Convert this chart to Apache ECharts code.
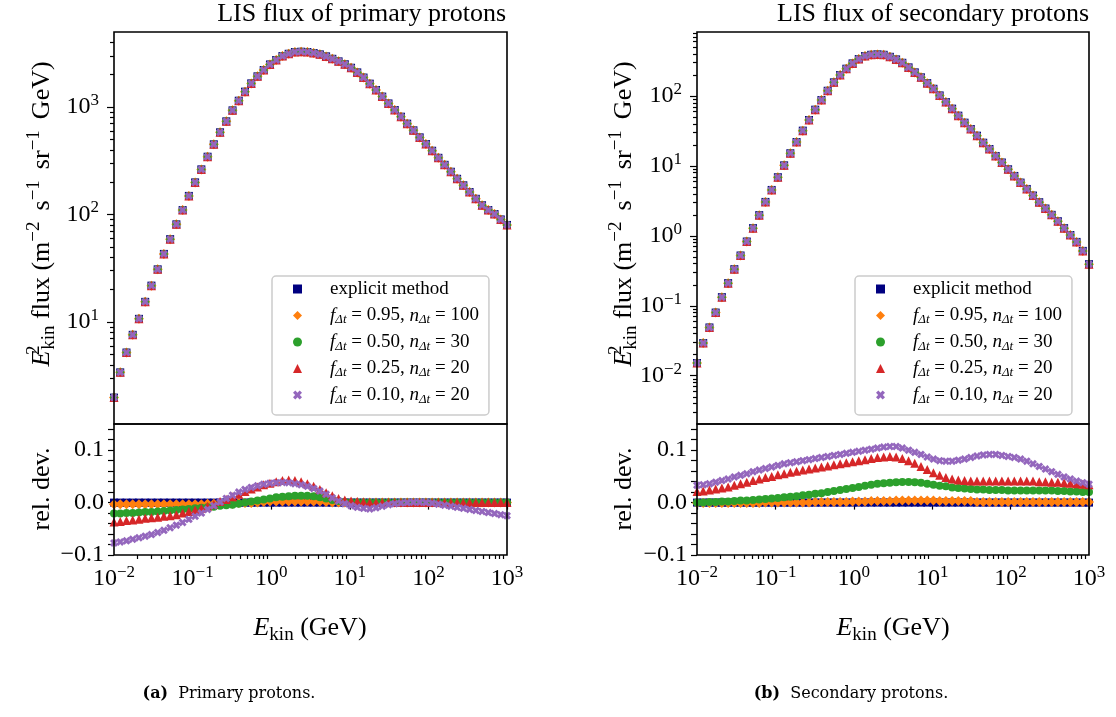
<!DOCTYPE html>
<html><head><meta charset="utf-8">
<script src="https://cdn.jsdelivr.net/npm/echarts@6/dist/echarts.min.js"></script>
<style>html,body{margin:0;padding:0;background:#fff}#c{width:1116px;height:717px}</style>
</head><body><div id="c"></div>
<script>
// ---------------- data ----------------
const energy = [0.01, 0.012, 0.01441, 0.0173, 0.02077, 0.02494, 0.02994, 0.03594, 0.04314, 0.0518, 0.06218, 0.07465, 0.08962, 0.1076, 0.1292, 0.1551, 0.1861, 0.2235, 0.2683, 0.3221, 0.3866, 0.4642, 0.5572, 0.6689, 0.8031, 0.9641, 1.157, 1.39, 1.668, 2.003, 2.404, 2.886, 3.465, 4.16, 4.994, 5.995, 7.197, 8.64, 10.37, 12.45, 14.95, 17.95, 21.54, 25.86, 31.05, 37.28, 44.75, 53.72, 64.49, 77.43, 92.95, 111.6, 134.0, 160.8, 193.1, 231.8, 278.3, 334.0, 401.0, 481.4, 578.0, 693.9, 833.0, 1000];

const fluxPrimary = [1.98, 3.4, 5.2, 7.6, 10.7, 15.4, 21.8, 30.9, 43, 59, 81, 110, 149, 199, 263, 345, 450, 582, 736, 931, 1145, 1390, 1660, 1930, 2210, 2490, 2740, 2980, 3130, 3250, 3270, 3250, 3180, 3090, 2960, 2810, 2660, 2500, 2320, 2100, 1880, 1650, 1440, 1250, 1080, 938, 813, 700, 607, 522, 453, 392, 337, 290, 250, 215, 187, 162, 140, 122, 110, 101, 90, 80];

const fluxSecondary = [0.0152, 0.0293, 0.049, 0.080, 0.133, 0.211, 0.334, 0.524, 0.830, 1.29, 1.98, 3.06, 4.54, 6.9, 10.2, 15.2, 22, 32, 45.4, 63.8, 87.7, 119, 157, 200, 246, 293, 338, 373, 389, 394, 389, 364, 334, 299, 257, 218, 185, 153, 127, 102, 82, 66, 52.4, 41.6, 33.8, 27.1, 21.5, 17.5, 13.9, 11.2, 8.96, 7.2, 5.78, 4.69, 3.77, 3.03, 2.46, 2.0, 1.62, 1.29, 1.03, 0.82, 0.61, 0.394];

const devExplicit = [0,0,0,0,0,0,0,0,0,0, 0,0,0,0,0,0,0,0,0,0, 0,0,0,0,0,0,0,0,0,0, 0,0,0,0,0,0,0,0,0,0, 0,0,0,0,0,0,0,0,0,0, 0,0,0,0,0,0,0,0,0,0, 0,0,0,0];

const devPrimF095 = [-0.003,-0.003,-0.003,-0.003,-0.003,-0.003,-0.003,-0.003,-0.003,-0.003, -0.003,-0.003,-0.003,-0.003,-0.003,-0.002,-0.002,-0.002,-0.002,-0.002, -0.001,-0.001,-0.001,0.000,0.001,0.002,0.002,0.002,0.002,0.002, 0.002,0.002,0.002,0.002,0.001,0,0,0,0,0, 0,0,0,0,0,0,0,0,0,0, 0,0,0,0,0,0,0,0,0,0, 0,0,0,0];
const devPrimF050 = [-0.021,-0.021,-0.020,-0.020,-0.019,-0.018,-0.018,-0.017,-0.016,-0.015, -0.014,-0.013,-0.012,-0.011,-0.010,-0.009,-0.008,-0.006,-0.005,-0.004, -0.002,0.000,0.002,0.004,0.006,0.008,0.010,0.011,0.012,0.013, 0.013,0.013,0.012,0.010,0.008,0.005,0.003,0.001,0,0, 0,0,0,0,0,0,0,0,0,0, 0,0,0,0,0,0,0,0,0,0, 0,0,0,0];
const devPrimF025 = [-0.037,-0.036,-0.034,-0.033,-0.032,-0.030,-0.029,-0.028,-0.026,-0.025, -0.023,-0.020,-0.017,-0.014,-0.011,-0.007,-0.003,0.002,0.006,0.011, 0.016,0.021,0.026,0.030,0.034,0.037,0.040,0.042,0.043,0.042, 0.040,0.036,0.031,0.025,0.019,0.013,0.008,0.005,0.003,0.002, 0.001,0,0,0,0,0,0,0,0,0, 0,0,0,0,0,0,0,0,0,0, 0,0,0,0];
const devPrimF010 = [-0.077,-0.075,-0.073,-0.070,-0.067,-0.064,-0.061,-0.057,-0.053,-0.048, -0.043,-0.038,-0.032,-0.026,-0.020,-0.013,-0.006,0.001,0.008,0.014, 0.020,0.025,0.029,0.032,0.035,0.037,0.038,0.0385,0.038,0.036, 0.034,0.031,0.027,0.022,0.016,0.009,0.003,-0.002,-0.006,-0.009, -0.011,-0.012,-0.010,-0.007,-0.004,-0.002,-0.001,0.000,0.0005,0.0005, 0.000,-0.001,-0.003,-0.005,-0.007,-0.009,-0.011,-0.013,-0.015,-0.017, -0.019,-0.021,-0.023,-0.025];

const devSecF095 = [-0.001,-0.001,-0.001,-0.001,-0.001,-0.001,-0.001,-0.001,-0.001,-0.001, -0.001,0,0,0,0,0,0,0,0,0.001, 0.001,0.001,0.001,0.001,0.001,0.002,0.002,0.002,0.003,0.003, 0.003,0.003,0.004,0.004,0.004,0.004,0.004,0.004,0.004,0.003, 0.003,0.003,0.003,0.003,0.003,0.001,0.001,0.001,0.001,0.001, 0.001,0.001,0.001,0.001,0.001,0.001,0.001,0.001,0.001,0.001, 0.001,0.001,0.001,0.001];
const devSecF050 = [0.000,0.000,0.001,0.001,0.002,0.002,0.003,0.004,0.004,0.005, 0.006,0.007,0.008,0.009,0.010,0.011,0.012,0.014,0.015,0.017, 0.018,0.020,0.022,0.024,0.026,0.028,0.030,0.032,0.034,0.036, 0.037,0.038,0.039,0.0395,0.0395,0.039,0.038,0.036,0.034,0.032, 0.031,0.029,0.028,0.027,0.026,0.025,0.025,0.024,0.024,0.024, 0.023,0.023,0.023,0.023,0.023,0.023,0.023,0.023,0.022,0.022, 0.021,0.021,0.020,0.020];
const devSecF025 = [0.021,0.022,0.024,0.026,0.028,0.030,0.033,0.036,0.039,0.042, 0.045,0.048,0.050,0.053,0.055,0.058,0.060,0.062,0.064,0.066, 0.068,0.070,0.072,0.074,0.076,0.078,0.080,0.082,0.084,0.086, 0.087,0.088,0.087,0.084,0.080,0.075,0.069,0.063,0.057,0.052, 0.048,0.045,0.043,0.042,0.041,0.041,0.041,0.041,0.041,0.041, 0.041,0.041,0.041,0.041,0.041,0.040,0.040,0.039,0.039,0.038, 0.037,0.036,0.035,0.034];
const devSecF010 = [0.033,0.034,0.036,0.039,0.042,0.045,0.049,0.052,0.055,0.059, 0.062,0.065,0.068,0.071,0.074,0.076,0.078,0.080,0.082,0.084, 0.086,0.088,0.090,0.092,0.094,0.096,0.098,0.100,0.102,0.104, 0.106,0.107,0.107,0.104,0.100,0.096,0.092,0.087,0.083,0.080, 0.079,0.079,0.081,0.083,0.086,0.089,0.091,0.092,0.092,0.090, 0.088,0.086,0.083,0.079,0.074,0.069,0.064,0.059,0.054,0.049, 0.045,0.041,0.038,0.035];

const seriesNames = ['explicit method', 'fΔt = 0.95, nΔt = 100', 'fΔt = 0.50, nΔt = 30', 'fΔt = 0.25, nΔt = 20', 'fΔt = 0.10, nΔt = 20'];

const xTickValues = [0.01, 0.1, 1, 10, 100, 1000];
const xTickLabels = ['10{sup|−2}', '10{sup|−1}', '10{sup|0}', '10{sup|1}', '10{sup|2}', '10{sup|3}'];
const yPrimTickValues = [10, 100, 1000];
const yPrimTickLabels = ['10{sup|1}', '10{sup|2}', '10{sup|3}'];
const ySecTickValues = [0.01, 0.1, 1, 10, 100];
const ySecTickLabels = ['10{sup|−2}', '10{sup|−1}', '10{sup|0}', '10{sup|1}', '10{sup|2}'];
const devTickValues = [-0.1, -0.08, -0.06, -0.04, -0.02, 0, 0.02, 0.04, 0.06, 0.08, 0.1, 0.12, 0.14];
const devLabelValues = [-0.1, 0, 0.1];
const devLabelTexts = ['−0.1', '0.0', '0.1'];

// ---------------- styling ----------------
const FONT = 'Liberation Serif';
const colors = ['#000080', '#ff7f0e', '#2ca02c', '#d62728', '#9467bd'];
const XPATH = 'path://M0,2.6L2.6,0L5,2.4L7.4,0L10,2.6L7.6,5L10,7.4L7.4,10L5,7.6L2.6,10L0,7.4L2.4,5Z';
const symbols = ['rect', 'diamond', 'circle', 'triangle', XPATH];
const symbolSizes = [8, 10, 8, 9, 8];

function minorsOf(decades, lo, hi) {
  const out = [];
  decades.forEach(d => { for (let k = 2; k <= 9; k++) { const v = +(k * d).toPrecision(6); if (v > lo && v < hi) out.push(v); } });
  return out;
}
function lookup(values, labels, isLog) {
  return function (v) {
    for (let i = 0; i < values.length; i++) {
      const a = isLog ? Math.log10(values[i]) : values[i];
      const b = isLog ? Math.log10(v) : v;
      if (Math.abs(a - b) < 1e-6) return labels[i];
    }
    return '';
  };
}
const tickLine = { color: '#000', width: 1.2 };
const labelStyle = {
  color: '#000', fontFamily: FONT, fontSize: 24, lineHeight: 30,
  rich: { sup: { fontFamily: FONT, fontSize: 17, lineHeight: 17, verticalAlign: 'top', color: '#000' } }
};
const noSplit = { show: false };

const X_MIN = 0.01, X_MAX = 1000;
const yPrim = [1.125, 4990];
const ySec = [0.00204, 824];
const yDev = [-0.1, 0.15];

const xMinor = minorsOf([0.01, 0.1, 1, 10, 100], X_MIN, X_MAX);
const yPrimMinor = minorsOf([1, 10, 100, 1000], yPrim[0], yPrim[1]);
const ySecMinor = minorsOf([0.001, 0.01, 0.1, 1, 10, 100], ySec[0], ySec[1]);

function gridDef(left, top, width, height) {
  return { left, top, width, height, show: true, borderColor: '#000', borderWidth: 1.6, backgroundColor: 'transparent', z: 10 };
}
const grids = [gridDef(114, 32, 393, 392), gridDef(114, 424, 393, 131), gridDef(697, 32, 392, 392), gridDef(697, 424, 392, 131)];

function xTopAxis(g) {
  return { gridIndex: g, type: 'log', position: 'bottom', min: X_MIN, max: X_MAX, axisLine: { show: false }, axisTick: { show: false }, axisLabel: { show: false }, splitLine: noSplit };
}
function xBottomAxis(g) {
  return { gridIndex: g, type: 'log', position: 'bottom', offset: 0, min: X_MIN, max: X_MAX, axisLine: { show: false },
    axisTick: { show: true, length: 7, lineStyle: tickLine, customValues: xTickValues },
    axisLabel: Object.assign({ show: true, margin: 9, customValues: xTickValues, formatter: lookup(xTickValues, xTickLabels, true) }, labelStyle),
    splitLine: noSplit };
}
function xMinorAxis(g) {
  return { gridIndex: g, type: 'log', position: 'bottom', offset: 0, min: X_MIN, max: X_MAX, axisLine: { show: false },
    axisTick: { show: true, length: 4, lineStyle: tickLine, customValues: xMinor }, axisLabel: { show: false }, splitLine: noSplit };
}
function yLogAxis(g, ext, vals, labs) {
  return { gridIndex: g, type: 'log', position: 'left', offset: 0, min: ext[0], max: ext[1], axisLine: { show: false },
    axisTick: { show: true, length: 7, lineStyle: tickLine, customValues: vals },
    axisLabel: Object.assign({ show: true, margin: 15, customValues: vals, formatter: lookup(vals, labs, true) }, labelStyle),
    splitLine: noSplit };
}
function yLogMinor(g, ext, vals) {
  return { gridIndex: g, type: 'log', position: 'left', offset: 0, min: ext[0], max: ext[1], axisLine: { show: false },
    axisTick: { show: true, length: 4, lineStyle: tickLine, customValues: vals }, axisLabel: { show: false }, splitLine: noSplit };
}
function yDevAxis(g) {
  return { gridIndex: g, type: 'value', position: 'left', offset: 0, min: yDev[0], max: yDev[1], axisLine: { show: false },
    axisTick: { show: true, length: 6, lineStyle: tickLine, customValues: devTickValues },
    axisLabel: Object.assign({ show: true, margin: 10, customValues: devLabelValues, formatter: lookup(devLabelValues, devLabelTexts, false) }, labelStyle),
    splitLine: noSplit };
}

const xAxis = [xTopAxis(0), xBottomAxis(1), xMinorAxis(1), xTopAxis(2), xBottomAxis(3), xMinorAxis(3)];
const yAxis = [yLogAxis(0, yPrim, yPrimTickValues, yPrimTickLabels), yLogMinor(0, yPrim, yPrimMinor), yDevAxis(1),
               yLogAxis(2, ySec, ySecTickValues, ySecTickLabels), yLogMinor(2, ySec, ySecMinor), yDevAxis(3)];

const panels = [
  { flux: fluxPrimary, devs: [devExplicit, devPrimF095, devPrimF050, devPrimF025, devPrimF010] },
  { flux: fluxSecondary, devs: [devExplicit, devSecF095, devSecF050, devSecF025, devSecF010] }
];
const series = [];
panels.forEach((p, pi) => {
  for (let k = 0; k < 5; k++) {
    series.push({ type: 'scatter', name: seriesNames[k], xAxisIndex: 3 * pi, yAxisIndex: 3 * pi,
      data: energy.map((e, i) => [e, p.flux[i]]), symbol: symbols[k], symbolSize: symbolSizes[k],
      itemStyle: { color: colors[k], opacity: 1 }, silent: true });
  }
  for (let k = 0; k < 5; k++) {
    series.push({ type: 'scatter', name: seriesNames[k], xAxisIndex: 3 * pi + 1, yAxisIndex: 3 * pi + 2,
      data: energy.map((e, i) => [e, p.devs[k][i]]), symbol: symbols[k], symbolSize: symbolSizes[k],
      itemStyle: { color: colors[k], opacity: 1 }, silent: true });
  }
});

function legendDef(left) {
  return {
    left, top: 276, orient: 'vertical', itemWidth: 9, itemHeight: 9, itemGap: 4.5,
    padding: [2, 10, 9, 21], backgroundColor: 'rgba(255,255,255,0.85)', borderColor: '#cccccc', borderWidth: 1.5, borderRadius: 4,
    selectedMode: false,
    data: seriesNames.map((n, k) => ({ name: n, icon: symbols[k] })),
    formatter: n => n.replace(/([fn])Δt/g, '{i|$1}{s|Δt}'),
    textStyle: {
      color: '#000', fontFamily: FONT, fontSize: 19, lineHeight: 22, padding: [0, 0, 0, 23],
      rich: {
        i: { fontFamily: FONT, fontStyle: 'italic', fontSize: 19, lineHeight: 22, color: '#000' },
        s: { fontFamily: FONT, fontStyle: 'italic', fontSize: 13, lineHeight: 13, verticalAlign: 'bottom', color: '#000' }
      }
    }
  };
}

const labRich = {
  i: { fontFamily: FONT, fontStyle: 'italic', fontSize: 26, lineHeight: 34, fill: '#000' },
  sup: { fontFamily: FONT, fontSize: 19, lineHeight: 19, verticalAlign: 'top', padding: [0, 2, 0, 0], fill: '#000' },
  sup2: { fontFamily: FONT, fontSize: 19, lineHeight: 19, verticalAlign: 'top', width: 1, fill: '#000' },
  sub: { fontFamily: FONT, fontSize: 19, lineHeight: 19, verticalAlign: 'bottom', fill: '#000' },
  sp: { fontFamily: FONT, fontSize: 26, width: 9 }
};
function gtext(x, y, text, opts) {
  return Object.assign({ type: 'text', x, y, silent: true,
    style: Object.assign({ text, fontFamily: FONT, fontSize: 26, lineHeight: 34, fill: '#000', align: 'center', verticalAlign: 'middle', rich: labRich }, opts && opts.style || {}) },
    opts && opts.el || {});
}
const yLabel = '{i|E}{sup2|2}{sub|kin} flux (m{sup|−2}{sp| }s{sup|−1}{sp| }sr{sup|−1}{sp| }GeV)';
const xLabel = '{i|E}{sub|kin} (GeV)';
const capRich = { b: { fontFamily: 'DejaVu Serif', fontWeight: 'bold', fontSize: 16, fill: '#000' } };

const graphic = { elements: [
  gtext(506, 31, 'LIS flux of primary protons', { style: { align: 'right', verticalAlign: 'bottom' } }),
  gtext(1089, 31, 'LIS flux of secondary protons', { style: { align: 'right', verticalAlign: 'bottom' } }),
  gtext(42, 214, yLabel, { el: { rotation: Math.PI / 2 } }),
  gtext(624, 214, yLabel, { el: { rotation: Math.PI / 2 } }),
  gtext(42, 489, 'rel. dev.', { el: { rotation: Math.PI / 2 } }),
  gtext(624, 489, 'rel. dev.', { el: { rotation: Math.PI / 2 } }),
  gtext(310, 628, xLabel),
  gtext(893, 628, xLabel),
  gtext(229, 694, '{b|(a)}  Primary protons.', { style: { fontFamily: 'DejaVu Serif', fontSize: 16, lineHeight: 20, rich: capRich } }),
  gtext(851, 694, '{b|(b)}  Secondary protons.', { style: { fontFamily: 'DejaVu Serif', fontSize: 16, lineHeight: 20, rich: capRich } })
] };

const chart = echarts.init(document.getElementById('c'), null, { renderer: 'canvas' });
chart.setOption({
  animation: false,
  backgroundColor: '#ffffff',
  grid: grids,
  xAxis, yAxis, series,
  legend: [legendDef(272), legendDef(855)],
  graphic
});
</script>
</body></html>
